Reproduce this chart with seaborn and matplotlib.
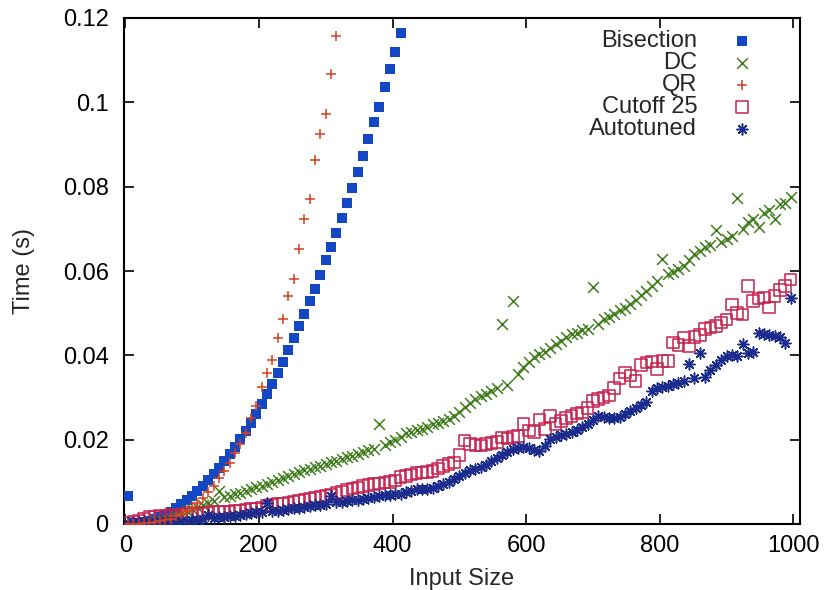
import numpy as np
import pandas as pd
import matplotlib
matplotlib.use("Agg")
import matplotlib.pyplot as plt
import seaborn as sns

# ---------------- data ----------------
series_names = ["Bisection", "DC", "QR", "Cutoff 25", "Autotuned"]

x_all = list(range(4, 1000, 8))          # input sizes 4, 12, ..., 996

bisection_x = list(range(4, 420, 8))      # 4 .. 412
bisection_y = [0.0066, 0.0002, 0.0003, 0.0004, 0.0007, 0.0011, 0.0016, 0.0022,
               0.0029, 0.0038, 0.0047, 0.0056, 0.0066, 0.0078, 0.0090, 0.0104,
               0.0118, 0.0133, 0.0149, 0.0165, 0.0183, 0.0201, 0.0221, 0.0240,
               0.0262, 0.0285, 0.0309, 0.0333, 0.0358, 0.0384, 0.0412, 0.0441,
               0.0469, 0.0497, 0.0530, 0.0558, 0.0591, 0.0625, 0.0658, 0.0690,
               0.0725, 0.0761, 0.0796, 0.0835, 0.0873, 0.0913, 0.0954, 0.0990,
               0.1037, 0.1079, 0.1120, 0.1164]

qr_x = list(range(4, 324, 8))             # 4 .. 316
qr_y = [0.0000, 0.0001, 0.0001, 0.0002, 0.0003, 0.0004, 0.0006, 0.0009,
        0.0013, 0.0018, 0.0024, 0.0031, 0.0040, 0.0050, 0.0062, 0.0075,
        0.0090, 0.0108, 0.0125, 0.0145, 0.0169, 0.0190, 0.0215, 0.0252,
        0.0281, 0.0324, 0.0357, 0.0388, 0.0440, 0.0487, 0.0540, 0.0580,
        0.0651, 0.0723, 0.0770, 0.0863, 0.0924, 0.0973, 0.1068, 0.1158]

dc_y = [0.0002, 0.0003, 0.0003, 0.0005, 0.0006, 0.0008, 0.0010, 0.0012,
        0.0015, 0.0019, 0.0024, 0.0030, 0.0035, 0.0040, 0.0045, 0.0050,
        0.0055, 0.0078, 0.0063, 0.0066, 0.0070, 0.0074, 0.0079, 0.0083,
        0.0088, 0.0091, 0.0095, 0.0099, 0.0104, 0.0109, 0.0113, 0.0118,
        0.0124, 0.0127, 0.0131, 0.0136, 0.0138, 0.0142, 0.0146, 0.0150,
        0.0153, 0.0158, 0.0162, 0.0166, 0.0171, 0.0175, 0.0179, 0.0238,
        0.0188, 0.0195, 0.0200, 0.0207, 0.0215, 0.0219, 0.0224, 0.0226,
        0.0231, 0.0236, 0.0240, 0.0245, 0.0250, 0.0257, 0.0266, 0.0277,
        0.0287, 0.0297, 0.0303, 0.0309, 0.0316, 0.0322, 0.0474, 0.0329,
        0.0529, 0.0356, 0.0373, 0.0385, 0.0395, 0.0403, 0.0409, 0.0418,
        0.0427, 0.0435, 0.0443, 0.0451, 0.0453, 0.0460, 0.0463, 0.0562,
        0.0475, 0.0486, 0.0490, 0.0497, 0.0508, 0.0512, 0.0521, 0.0531,
        0.0542, 0.0553, 0.0565, 0.0577, 0.0628, 0.0592, 0.0597, 0.0605,
        0.0612, 0.0625, 0.0641, 0.0648, 0.0656, 0.0662, 0.0697, 0.0668,
        0.0676, 0.0684, 0.0772, 0.0700, 0.0716, 0.0723, 0.0705, 0.0738,
        0.0745, 0.0724, 0.0758, 0.0762, 0.0776]

cutoff_y = [0.0003, 0.0005, 0.0008, 0.0012, 0.0016, 0.0018, 0.0019, 0.0020,
            0.0021, 0.0020, 0.0022, 0.0023, 0.0024, 0.0025, 0.0026, 0.0027,
            0.0028, 0.0029, 0.0030, 0.0030, 0.0031, 0.0032, 0.0033, 0.0035,
            0.0037, 0.0039, 0.0043, 0.0045, 0.0047, 0.0048, 0.0050, 0.0052,
            0.0055, 0.0057, 0.0059, 0.0062, 0.0065, 0.0067, 0.0070, 0.0073,
            0.0076, 0.0081, 0.0084, 0.0087, 0.0090, 0.0093, 0.0095, 0.0096,
            0.0098, 0.0099, 0.0103, 0.0111, 0.0114, 0.0117, 0.0121, 0.0122,
            0.0124, 0.0125, 0.0132, 0.0138, 0.0143, 0.0146, 0.0163, 0.0198,
            0.0190, 0.0187, 0.0186, 0.0189, 0.0192, 0.0194, 0.0205, 0.0203,
            0.0207, 0.0209, 0.0237, 0.0222, 0.0218, 0.0248, 0.0225, 0.0256,
            0.0237, 0.0245, 0.0252, 0.0256, 0.0262, 0.0264, 0.0275, 0.0292,
            0.0296, 0.0300, 0.0305, 0.0322, 0.0345, 0.0359, 0.0352, 0.0339,
            0.0377, 0.0383, 0.0385, 0.0367, 0.0386, 0.0387, 0.0430, 0.0425,
            0.0442, 0.0422, 0.0444, 0.0448, 0.0462, 0.0466, 0.0470, 0.0478,
            0.0485, 0.0521, 0.0501, 0.0497, 0.0565, 0.0529, 0.0535, 0.0537,
            0.0513, 0.0541, 0.0555, 0.0565, 0.0580]

autotuned_y = [0.0002, 0.0003, 0.0004, 0.0004, 0.0005, 0.0005, 0.0006, 0.0006,
               0.0007, 0.0007, 0.0008, 0.0008, 0.0009, 0.0010, 0.0012, 0.0022,
               0.0015, 0.0016, 0.0017, 0.0018, 0.0020, 0.0022, 0.0024, 0.0026,
               0.0028, 0.0029, 0.0050, 0.0031, 0.0032, 0.0034, 0.0035, 0.0037,
               0.0039, 0.0040, 0.0042, 0.0044, 0.0046, 0.0048, 0.0066, 0.0051,
               0.0053, 0.0054, 0.0056, 0.0058, 0.0060, 0.0062, 0.0064, 0.0066,
               0.0068, 0.0069, 0.0070, 0.0071, 0.0075, 0.0079, 0.0082, 0.0083,
               0.0084, 0.0086, 0.0091, 0.0096, 0.0100, 0.0107, 0.0113, 0.0120,
               0.0128, 0.0131, 0.0134, 0.0141, 0.0149, 0.0157, 0.0163, 0.0171,
               0.0178, 0.0181, 0.0183, 0.0181, 0.0176, 0.0172, 0.0185, 0.0201,
               0.0207, 0.0210, 0.0213, 0.0218, 0.0224, 0.0230, 0.0238, 0.0247,
               0.0255, 0.0253, 0.0251, 0.0252, 0.0254, 0.0262, 0.0269, 0.0275,
               0.0282, 0.0290, 0.0315, 0.0322, 0.0324, 0.0327, 0.0331, 0.0335,
               0.0339, 0.0380, 0.0347, 0.0406, 0.0349, 0.0365, 0.0378, 0.0390,
               0.0398, 0.0401, 0.0399, 0.0428, 0.0405, 0.0407, 0.0454, 0.0450,
               0.0448, 0.0446, 0.0444, 0.0430, 0.0537]

x_ticks = [0, 200, 400, 600, 800, 1000]
y_ticks = [0, 0.02, 0.04, 0.06, 0.08, 0.10, 0.12]
y_tick_labels = ["0", "0.02", "0.04", "0.06", "0.08", "0.1", "0.12"]

# ---------------- styling ----------------
sns.set_style("white")
plt.rcParams["font.family"] = ["Liberation Sans", "DejaVu Sans"]
FS = 17

colors = {
    "Bisection": "#1447c4",
    "DC": "#3f7d1c",
    "QR": "#d8401f",
    "Cutoff 25": "#c4224e",
    "Autotuned": "#1c2c8c",
}

fig = plt.figure(figsize=(8.24, 5.90), dpi=100)
ax = fig.add_axes([124 / 824, 1 - 524 / 590, (800 - 124) / 824, (524 - 18) / 590])

df_b = pd.DataFrame({"x": bisection_x, "y": bisection_y})
df_q = pd.DataFrame({"x": qr_x, "y": qr_y})
df_d = pd.DataFrame({"x": x_all, "y": dc_y})
df_c = pd.DataFrame({"x": x_all, "y": cutoff_y})
df_a = pd.DataFrame({"x": x_all, "y": autotuned_y})

sns.scatterplot(data=df_b, x="x", y="y", ax=ax, marker="s", s=50,
                color=colors["Bisection"], edgecolor=colors["Bisection"],
                linewidth=0, label="Bisection", zorder=3)
sns.scatterplot(data=df_d, x="x", y="y", ax=ax, marker="x", s=60,
                color=colors["DC"], linewidth=1.1, label="DC", zorder=3)
sns.scatterplot(data=df_q, x="x", y="y", ax=ax, marker="+", s=60,
                color=colors["QR"], linewidth=1.1, label="QR", zorder=4)
sns.scatterplot(data=df_c, x="x", y="y", ax=ax, marker="s", s=70,
                facecolor="none", edgecolor=colors["Cutoff 25"],
                linewidth=1.1, label="Cutoff 25", zorder=3)
sns.scatterplot(data=df_a, x="x", y="y", ax=ax, marker=(8, 2, 0), s=60,
                color=colors["Autotuned"], linewidth=1.1, label="Autotuned", zorder=3)

ax.set_xlim(-2, 1010)
ax.set_ylim(0, 0.12)
ax.set_xticks(x_ticks)
ax.set_xticklabels([str(t) for t in x_ticks])
ax.set_yticks(y_ticks)
ax.set_yticklabels(y_tick_labels)

for sp in ax.spines.values():
    sp.set_visible(True)
    sp.set_color("black")
    sp.set_linewidth(1.5)

ax.tick_params(axis="both", which="major", direction="in", length=7, width=1.2,
               top=True, right=True, bottom=True, left=True,
               labelsize=FS, colors="black")
ax.tick_params(axis="y", pad=11)
ax.tick_params(axis="x", pad=8)

ax.set_xlabel("Input Size", fontsize=FS, labelpad=8)
ax.set_ylabel("Time (s)", fontsize=FS, labelpad=20)

leg = ax.legend(loc="upper right", bbox_to_anchor=(0.958, 1.011), frameon=False,
                markerfirst=False, fontsize=FS, labelspacing=0.0,
                handletextpad=1.4, handlelength=1.0, borderpad=0.25,
                scatterpoints=1)
for col in leg._legend_handle_box.get_children():
    col.align = "right"

fig.savefig("out.png", dpi=100, facecolor="white")
